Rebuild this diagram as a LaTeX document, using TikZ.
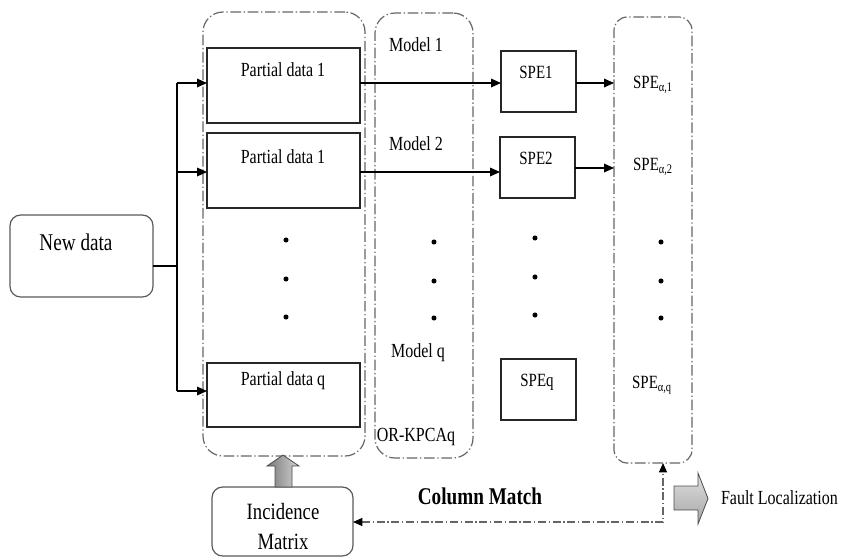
\documentclass[tikz,border=0pt]{standalone}
\usepackage{fontspec}
\setmainfont{Liberation Serif}[FakeStretch=0.8]
\usetikzlibrary{fit,arrows.meta,calc}
\begin{document}
\begin{tikzpicture}[x=0.75pt,y=-0.75pt,
  every node/.style={inner sep=0pt, outer sep=0pt},
  blk/.style={draw=black!85, line width=0.9pt},
  rblk/.style={draw=black!65, line width=0.9pt, rounded corners=8pt},
  grp/.style={draw=gray!80!black, line width=0.9pt,
    dash pattern=on 8pt off 2pt on 1pt off 2pt, rounded corners=#1},
  grp/.default=15pt,
  tip/.style={-{Triangle[length=7.5pt,width=6.5pt]}},
  wire/.style={draw=black, line width=0.9pt},
  cmline/.style={draw=gray!80!black, line width=0.9pt,
    dash pattern=on 6pt off 2pt on 1pt off 2pt,
    {Triangle[length=7pt,width=6pt,color=black]}-{Triangle[length=7pt,width=6pt,color=black]}},
  tA/.style={font=\fontsize{15}{18}\selectfont},
  tB/.style={font=\fontsize{18}{22}\selectfont},
  tS/.style={font=\fontsize{14}{17}\selectfont},
  dot/.style={fill=black},
  fatarrow/.style={draw=gray!60!black, line width=0.6pt}
]
\useasboundingbox (0,0) rectangle (841,558);

% group containers
\node[grp, fit={(203,12)(365,456)}] (c1) {};
\node[grp, fit={(375,13)(473,458)}] (c2) {};
\node[grp=10pt, fit={(614,17)(692,463)}] (c3) {};

% new data
\node[rblk, fit={(10,215)(153,297)}] (nd) {};
\node[tB] (ndt) at (76,242) {New data};

% partial data boxes
\node[blk, fit={(207,48)(360,123)}] (p1) {};
\node[blk, fit={(207,133)(360,208)}] (p2) {};
\node[blk, fit={(207,363)(360,427)}] (pq) {};
\node[tA] (p1t) at (283,70) {Partial data 1};
\node[tA] (p2t) at (283,157) {Partial data 1};
\node[tA] (pqt) at (283,381) {Partial data q};

% models
\node[tA] (m1) at (416,45) {Model 1};
\node[tA] (m2) at (416,144) {Model 2};
\node[tA] (mq) at (418,353) {Model q};
\node[tA] (ork) at (416,437) {OR-KPCAq};

% SPE boxes
\node[blk, fit={(501,51)(576,112)}] (s1) {};
\node[blk, fit={(500,137)(575,198)}] (s2) {};
\node[blk, fit={(501,359)(576,420)}] (sq) {};
\node[tS] (s1t) at (536,72) {SPE1};
\node[tS] (s2t) at (536,158) {SPE2};
\node[tS] (sqt) at (537,382) {SPEq};

% SPE alpha
\node[tS] (a1) at (653,85) {SPE\textsubscript{α,1}};
\node[tS] (a2) at (653,167) {SPE\textsubscript{α,2}};
\node[tS] (aq) at (652,385) {SPE\textsubscript{α,q}};

% dots
\foreach \x/\ya/\yb/\yc in {286/240/279/317, 434/242/281/318, 535/238/277/315, 661/242/281/318}{
  \fill[dot] (\x,\ya) circle[radius=1.9pt];
  \fill[dot] (\x,\yb) circle[radius=1.9pt];
  \fill[dot] (\x,\yc) circle[radius=1.9pt];
}

% trunk and input arrows
\coordinate (j) at (177,266);
\coordinate (t1) at (177,83);
\coordinate (t2) at (177,172);
\coordinate (tq) at (177,391);
\coordinate (r2) at (0,168);
\draw[wire] (nd.east |- j) -- (j);
\draw[wire] (t1) -- (tq);
\draw[wire, tip] (t1) -- (t1 -| p1.west);
\draw[wire, tip] (t2) -- (t2 -| p2.west);
\draw[wire, tip] (tq) -- (tq -| pq.west);

% partial data -> SPE
\draw[wire, tip] (t1 -| p1.east) -- (t1 -| s1.west);
\draw[wire, tip] (t2 -| p2.east) -- (t2 -| s2.west);
% SPE -> alpha group
\draw[wire, tip] (t1 -| s1.east) -- (t1 -| c3.west);
\draw[wire, tip] (r2 -| s2.east) -- (r2 -| c3.west);

% incidence matrix
\node[rblk, fit={(212,487)(353,556)}] (im) {};
\node[font=\fontsize{17.5}{22.5}\selectfont, align=center] (imt) at (283,527) {Incidence\\Matrix};

% fat up arrow from incidence matrix to group 1
\shade[fatarrow, left color=gray!95!black, right color=gray!35]
  (275,487) -- (275,466) -- (267,466) -- (283,455) -- (299,466) -- (292,466) -- (292,487) -- cycle;

% column match
\coordinate (cmc) at (663,522);
\draw[cmline] (im.east |- cmc) -- (cmc) -- (cmc |- c3.south);
\node[font=\bfseries\fontsize{18}{22}\selectfont] (cm) at (480,496) {Column Match};

% fault localization
\shade[fatarrow, top color=gray!25, bottom color=gray!70]
  (674,486) -- (698,486) -- (698,473) -- (708,498.5) -- (698,524) -- (698,510) -- (674,510) -- cycle;
\node[tA, anchor=west] (fl) at (721,498) {Fault Localization};
\end{tikzpicture}
\end{document}
